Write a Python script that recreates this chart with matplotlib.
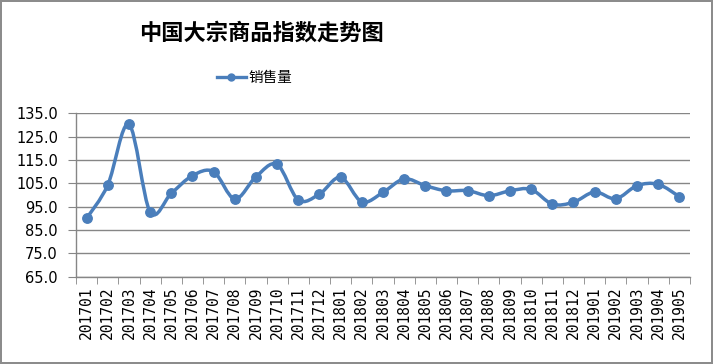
import numpy as np
import matplotlib
matplotlib.use('Agg')
import matplotlib.pyplot as plt
from matplotlib.path import Path
from matplotlib.patches import PathPatch
from matplotlib.lines import Line2D

plt.rcParams['font.family'] = ['Noto Sans CJK SC', 'DejaVu Sans']

TITLE = "中国大宗商品指数走势图"
SERIES = "销售量"
months = ["201701", "201702", "201703", "201704", "201705", "201706", "201707",
          "201708", "201709", "201710", "201711", "201712", "201801", "201802",
          "201803", "201804", "201805", "201806", "201807", "201808", "201809",
          "201810", "201811", "201812", "201901", "201902", "201903", "201904",
          "201905"]
values = [90.0, 104.3, 130.3, 92.8, 100.7, 108.3, 110.0, 98.3, 107.8, 113.1,
          97.9, 100.4, 107.6, 97.1, 101.1, 106.9, 104.0, 101.8, 101.9, 99.7,
          101.8, 102.4, 96.1, 96.9, 101.3, 98.4, 104.0, 104.6, 99.3]
yticks = [65, 75, 85, 95, 105, 115, 125, 135]

BLUE = "#4a7ebb"
GRID = "#868686"


def smooth_path(x, y):
    # excel style smoothed line: cubic bezier with catmull-rom control points
    pts = np.column_stack([x, y])
    verts = [pts[0]]
    codes = [Path.MOVETO]
    n = len(pts)
    for i in range(n - 1):
        p0 = pts[max(i - 1, 0)]
        p1 = pts[i]
        p2 = pts[i + 1]
        p3 = pts[min(i + 2, n - 1)]
        c1 = p1 + (p2 - p0) / 6.0
        c2 = p2 - (p3 - p1) / 6.0
        verts += [c1, c2, p2]
        codes += [Path.CURVE4] * 3
    return Path(verts, codes)


fig = plt.figure(figsize=(7.13, 3.64), dpi=100)
fig.patch.set_edgecolor("#8c8c8c")
fig.patch.set_linewidth(1.5)

ax = fig.add_axes([0.1066, 0.2398, 0.861, 0.4489])
xs = np.arange(len(months))

ax.add_patch(PathPatch(smooth_path(xs, values), facecolor="none",
                       edgecolor=BLUE, lw=2.5, zorder=3, capstyle="round"))
ax.plot(xs, values, linestyle="none", marker="o", ms=6.8, color=BLUE, zorder=4)

ax.set_xlim(-0.5, len(months) - 0.5)
ax.set_ylim(65, 135)
ax.set_yticks(yticks)
ax.set_yticklabels(["%.1f" % v for v in yticks], family="DejaVu Sans", fontsize=10.5)
ax.set_xticks(xs)
ax.set_xticklabels(months, rotation=90, family="DejaVu Sans Mono", fontsize=10.5)
ax.set_xticks(np.arange(len(months) + 1) - 0.5, minor=True)
ax.tick_params(axis="x", which="major", length=0, pad=7)
ax.tick_params(axis="x", which="minor", length=5, color=GRID)
ax.tick_params(axis="y", length=6, color=GRID, pad=7)

ax.grid(axis="y", color=GRID, lw=1)
ax.set_axisbelow(True)
for side in ["top", "right"]:
    ax.spines[side].set_visible(False)
for side in ["left", "bottom"]:
    ax.spines[side].set_color(GRID)
    ax.spines[side].set_linewidth(1)

fig.text(0.366, 0.909, TITLE, ha="center", va="center", fontsize=16,
         fontweight="bold")

handle = Line2D([], [], color=BLUE, lw=2.4, marker="o", ms=5)
fig.legend([handle], [SERIES], loc="center", bbox_to_anchor=(0.357, 0.786),
           frameon=False, fontsize=10.5, handlelength=2.0, handletextpad=0.2)

fig.savefig("out.png", dpi=100)
